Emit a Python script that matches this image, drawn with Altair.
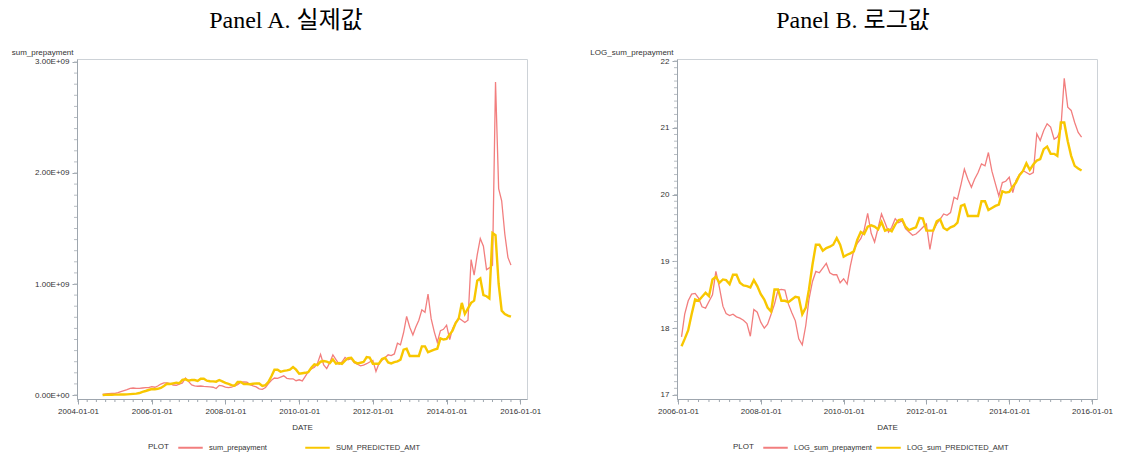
import altair as alt
import pandas as pd

# ---------------- data ----------------
a_start = "2004-09-01"   # Panel A first month
b_start = "2006-02-01"   # Panel B first month

# Panel A, actual values in units of 1e9
a_actual = [0.006, 0.009, 0.012, 0.015, 0.015, 0.021, 0.030, 0.039, 0.048, 0.060,
            0.063, 0.060, 0.060, 0.063, 0.066, 0.066, 0.075,
            0.070, 0.081, 0.099, 0.109, 0.110, 0.103, 0.090, 0.088, 0.098, 0.108,
            0.153, 0.120, 0.091, 0.082, 0.079, 0.081, 0.078, 0.076, 0.074, 0.070,
            0.058, 0.087, 0.083, 0.072, 0.066, 0.070, 0.081, 0.094, 0.116, 0.117,
            0.116, 0.094, 0.083, 0.073, 0.056, 0.051, 0.068, 0.101, 0.132, 0.153,
            0.150, 0.161, 0.173, 0.150, 0.146, 0.146, 0.129, 0.137, 0.127, 0.166,
            0.211, 0.234, 0.250, 0.285, 0.366, 0.271, 0.238, 0.294, 0.362, 0.318,
            0.277, 0.297, 0.338, 0.318, 0.328, 0.291, 0.277, 0.263, 0.269, 0.282,
            0.297, 0.312, 0.213, 0.282, 0.312, 0.335, 0.362, 0.355, 0.370, 0.466,
            0.452, 0.563, 0.709, 0.610, 0.541, 0.610, 0.674, 0.768, 0.745, 0.910,
            0.688, 0.569, 0.475, 0.580, 0.592, 0.629, 0.500, 0.598, 0.654, 0.695,
            0.674, 0.654, 0.674, 1.220, 1.080, 1.265, 1.410, 1.340, 1.130, 1.145,
            1.170, 2.820, 1.860, 1.750, 1.450, 1.240, 1.170]
a_pred = [0.000, 0.001, 0.002, 0.002, 0.003, 0.003, 0.004, 0.005, 0.006, 0.008,
          0.010, 0.012, 0.018, 0.028, 0.036, 0.045, 0.054,
          0.052, 0.056, 0.064, 0.081, 0.101, 0.099, 0.105, 0.111, 0.106, 0.136,
          0.141, 0.129, 0.136, 0.135, 0.127, 0.146, 0.146, 0.129, 0.124, 0.123,
          0.120, 0.135, 0.123, 0.109, 0.101, 0.089, 0.084, 0.117, 0.117, 0.099,
          0.099, 0.097, 0.101, 0.105, 0.104, 0.081, 0.089, 0.117, 0.169, 0.228,
          0.228, 0.209, 0.217, 0.222, 0.228, 0.252, 0.228, 0.191, 0.196, 0.200,
          0.206, 0.245, 0.277, 0.269, 0.300, 0.306, 0.300, 0.288, 0.321, 0.282,
          0.288, 0.280, 0.309, 0.332, 0.335, 0.300, 0.285, 0.291, 0.297, 0.342,
          0.338, 0.282, 0.282, 0.282, 0.325, 0.335, 0.294, 0.285, 0.297, 0.303,
          0.318, 0.409, 0.417, 0.352, 0.352, 0.352, 0.352, 0.438, 0.438, 0.385,
          0.397, 0.409, 0.417, 0.510, 0.500, 0.505, 0.546, 0.580, 0.648, 0.688,
          0.830, 0.730, 0.780, 0.830, 0.850, 1.030, 1.050, 0.900, 0.890, 0.870,
          1.460, 1.440, 1.000, 0.760, 0.730, 0.715, 0.705]

# Panel B, log values
b_actual = [17.87, 18.21, 18.41, 18.51, 18.52, 18.45, 18.32, 18.30, 18.40, 18.50,
            18.85, 18.61, 18.33, 18.22, 18.19, 18.21, 18.17, 18.15, 18.12, 18.07,
            17.88, 18.28, 18.24, 18.09, 18.00, 18.06, 18.21, 18.36, 18.57, 18.58,
            18.57, 18.36, 18.23, 18.11, 17.84, 17.75, 18.04, 18.43, 18.70, 18.85,
            18.83, 18.90, 18.97, 18.83, 18.80, 18.80, 18.68, 18.74, 18.66, 18.93,
            19.17, 19.27, 19.34, 19.47, 19.72, 19.42, 19.29, 19.50, 19.71, 19.58,
            19.44, 19.51, 19.64, 19.58, 19.61, 19.49, 19.44, 19.39, 19.41, 19.46,
            19.51, 19.56, 19.18, 19.46, 19.56, 19.63, 19.71, 19.69, 19.73, 19.96,
            19.93, 20.15, 20.38, 20.23, 20.11, 20.23, 20.33, 20.46, 20.43, 20.63,
            20.35, 20.16, 19.98, 20.18, 20.20, 20.26, 20.03, 20.21, 20.30, 20.36,
            20.33, 20.30, 20.33, 20.91, 20.81, 20.96, 21.06, 21.01, 20.83, 20.86,
            20.98, 21.74, 21.31, 21.26, 21.08, 20.93, 20.86]
b_pred = [17.73, 17.84, 17.97, 18.21, 18.43, 18.41, 18.47, 18.53, 18.48, 18.73,
          18.77, 18.68, 18.73, 18.72, 18.66, 18.80, 18.80, 18.68, 18.64, 18.63,
          18.61, 18.72, 18.63, 18.51, 18.43, 18.31, 18.25, 18.58, 18.58, 18.41,
          18.41, 18.39, 18.43, 18.47, 18.46, 18.21, 18.31, 18.58, 18.95, 19.25,
          19.25, 19.16, 19.20, 19.22, 19.25, 19.35, 19.25, 19.07, 19.10, 19.12,
          19.15, 19.32, 19.44, 19.41, 19.52, 19.54, 19.52, 19.48, 19.59, 19.46,
          19.48, 19.45, 19.55, 19.62, 19.63, 19.52, 19.47, 19.49, 19.51, 19.65,
          19.64, 19.46, 19.46, 19.46, 19.60, 19.63, 19.50, 19.47, 19.51, 19.53,
          19.58, 19.83, 19.85, 19.68, 19.68, 19.68, 19.68, 19.90, 19.90, 19.77,
          19.80, 19.83, 19.85, 20.05, 20.03, 20.04, 20.12, 20.18, 20.29, 20.35,
          20.47, 20.37, 20.45, 20.51, 20.53, 20.68, 20.72, 20.61, 20.61, 20.58,
          21.08, 21.08, 20.80, 20.58, 20.43, 20.39, 20.36]

a_series = ["sum_prepayment", "SUM_PREDICTED_AMT"]
b_series = ["LOG_sum_prepayment", "LOG_sum_PREDICTED_AMT"]
a_yticks = [0, 1e9, 2e9, 3e9]
b_yticks = [17, 18, 19, 20, 21, 22]
x_label_years = ["2004", "2006", "2008", "2010", "2012", "2014", "2016"]
titles = ["Panel A. 실제값", "Panel B. 로그값"]

RED = "#f27e7e"
YEL = "#f8c700"
AX = "#9ea6ae"
LBL = "Liberation Sans"
TITLE_FONT = "Liberation Serif, Noto Sans CJK KR"


def long_df(start, actual, pred, names, mult):
    d_a = pd.date_range(start, periods=len(actual), freq="MS")
    d_p = pd.date_range(start, periods=len(pred), freq="MS")
    return pd.concat([
        pd.DataFrame({"date": d_a, "value": [v * mult for v in actual], "series": names[0]}),
        pd.DataFrame({"date": d_p, "value": [v * mult for v in pred], "series": names[1]}),
    ])


df_a = long_df(a_start, a_actual, a_pred, a_series, 1e9)
df_b = long_df(b_start, b_actual, b_pred, b_series, 1.0)


def panel(df, names, xdom, ydom, yticks, ylabel_expr, ytitle, xyears, title, w, h,
          legend_x, col_pad, ymin_step, title_dx):
    xvals = [alt.DateTime(year=int(y), month=1, date=1) for y in xyears]
    xs = alt.Scale(domain=[alt.DateTime(**xdom[0]), alt.DateTime(**xdom[1])])
    ys = alt.Scale(domain=ydom, nice=False, zero=False)
    color = alt.Color(
        "series:N",
        scale=alt.Scale(domain=names, range=[RED, YEL]),
        legend=alt.Legend(
            orient="none", legendX=legend_x, legendY=h + 35, direction="horizontal",
            title="PLOT", titleOrient="left", titleFont=LBL, titleFontSize=8,
            titleFontWeight="normal", titleColor="#333", titlePadding=8,
            titleBaseline="top", titleAnchor="middle",
            labelFont=LBL, labelFontSize=7.5, labelColor="#333",
            symbolType="M-1,0H1", symbolSize=600, symbolStrokeWidth=2,
            columnPadding=col_pad, labelOffset=5,
        ),
    )
    xenc = alt.X("date:T", scale=xs, title="DATE",
                 axis=alt.Axis(values=xvals, format="%Y-%m-%d", labelFont=LBL,
                               labelFontSize=8, labelColor="#333", titleFont=LBL,
                               titleFontSize=8, titleFontWeight="normal",
                               titleColor="#333", titlePadding=8, grid=False,
                               domainColor=AX, tickColor=AX,
                               tickSize=5, labelPadding=3, labelFlush=False))
    yenc = alt.Y("value:Q", scale=ys, title=ytitle,
                 axis=alt.Axis(values=yticks, labelExpr=ylabel_expr, labelFont=LBL,
                               labelFontSize=8, labelColor="#333", grid=False,
                               domainColor=AX, tickColor=AX, tickSize=5,
                               labelPadding=3, titleAngle=0, titleAlign="right",
                               titleBaseline="middle", titleX=-4, titleY=-7,
                               titleFont=LBL, titleFontSize=8,
                               titleFontWeight="normal", titleColor="#333"))
    base = alt.Chart(df)
    red = base.transform_filter(alt.datum.series == names[0]).mark_line(
        strokeWidth=1.3, interpolate="linear").encode(x=xenc, y=yenc, color=color)
    yel = base.transform_filter(alt.datum.series == names[1]).mark_line(
        strokeWidth=2.4, interpolate="linear").encode(x=xenc, y=yenc, color=color)

    # minor ticks (same field names so the axes merge with the main layer)
    q0 = pd.Timestamp(year=xdom[0]["year"], month=xdom[0]["month"], day=1) + pd.offsets.MonthBegin(1)
    q1 = pd.Timestamp(year=xdom[1]["year"], month=xdom[1]["month"], day=1)
    qd = pd.DataFrame({"date": pd.date_range(q0, q1, freq="QS")})
    xminor = alt.Chart(qd).mark_rule(color=AX, strokeWidth=1).encode(
        x=alt.X("date:T", scale=xs), y=alt.value(h), y2=alt.value(h + 3))
    lo, hi = yticks[0], yticks[-1]
    n = int(round((hi - lo) / ymin_step))
    yd = pd.DataFrame({"value": [lo + i * ymin_step for i in range(n + 1)]})
    yminor = alt.Chart(yd).mark_rule(color="#b8bec4", strokeWidth=1).encode(
        y=alt.Y("value:Q", scale=ys), x=alt.value(-3), x2=alt.value(0))

    return alt.layer(red, yel, xminor, yminor).properties(
        width=w, height=h,
        title=alt.Title(title, font=TITLE_FONT, fontSize=24, fontWeight="normal",
                        color="#000", anchor="middle", frame="group", dx=title_dx,
                        offset=15),
    )


pa = panel(df_a, a_series,
           ({"year": 2003, "month": 12, "date": 22}, {"year": 2016, "month": 3, "date": 8}),
           [-0.036e9, 3.027e9], a_yticks,
           "datum.value == 0 ? '0.00E+00' : format(datum.value / 1e9, '.2f') + 'E+09'",
           "sum_prepayment", x_label_years, titles[0], 450, 340, 71, 34, 0.1e9, -16)
pb = panel(df_b, b_series,
           ({"year": 2005, "month": 12, "date": 23}, {"year": 2016, "month": 2, "date": 14}),
           [16.94, 22.03], b_yticks, "format(datum.value, 'd')",
           "LOG_sum_prepayment", x_label_years[1:], titles[1], 420, 340, 56, 0, 0.1, -34)

chart = alt.hconcat(pa, pb, spacing=47).resolve_scale(color="independent").configure(
    padding={"left": 2, "top": 0, "right": 0, "bottom": 0},
).configure_view(stroke="#cdd2d7", strokeWidth=1)

chart.save("out.html", embed_options={"renderer": "svg", "actions": False})
